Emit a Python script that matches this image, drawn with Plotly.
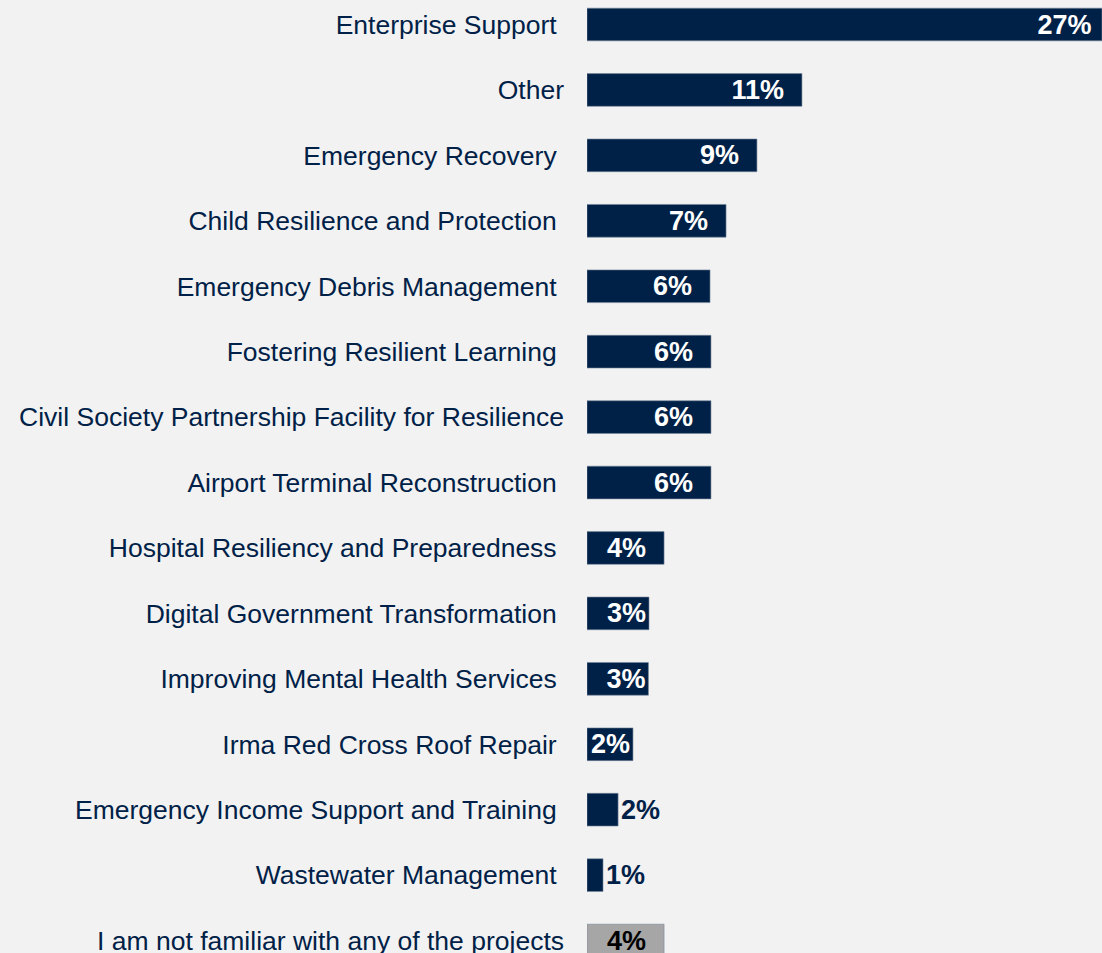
import plotly.graph_objects as go

NB = "\u00a0"
categories = [
    "Enterprise Support" + NB,
    "Other",
    "Emergency Recovery" + NB,
    "Child Resilience and Protection" + NB,
    "Emergency Debris Management" + NB,
    "Fostering Resilient Learning" + NB,
    "Civil Society Partnership Facility for Resilience",
    "Airport Terminal Reconstruction" + NB,
    "Hospital Resiliency and Preparedness" + NB,
    "Digital Government Transformation" + NB,
    "Improving Mental Health Services" + NB,
    "Irma Red Cross Roof Repair" + NB,
    "Emergency Income Support and Training" + NB,
    "Wastewater Management" + NB,
    "I am not familiar with any of the projects",
]
values = [27.0, 11.27, 8.91, 7.29, 6.45, 6.5, 6.5, 6.5, 4.04, 3.25, 3.22, 2.41, 1.63, 0.84, 4.04]
labels = ["27%" + NB, "11%" + NB * 2, "9%" + NB * 2, "7%" + NB * 2, "6%" + NB * 2, "6%" + NB * 2,
          "6%" + NB * 2, "6%" + NB * 2, "4%" + NB * 2, "3%", "3%", "2%", "2%", "1%", "4%" + NB * 2]

NAVY = "#002147"
GRAY = "#A6A6A6"
colors = [NAVY] * 14 + [GRAY]
text_pos = ["inside"] * 12 + ["outside", "outside", "inside"]
text_col = ["white"] * 12 + [NAVY, NAVY, "black"]

fig = go.Figure(
    go.Bar(
        x=values,
        y=categories,
        orientation="h",
        text=labels,
        textposition=text_pos,
        insidetextanchor="end",
        constraintext="none",
        textangle=0,
        cliponaxis=False,
        textfont=dict(family="Arial, Liberation Sans", size=27, color=text_col, weight="bold"),
        marker=dict(color=colors, line=dict(color="rgba(120,135,155,0.6)", width=1)),
        width=0.5,
        hoverinfo="skip",
    )
)

fig.update_layout(
    width=1102,
    height=953,
    margin=dict(l=587, r=0, t=0, b=0, pad=0, autoexpand=False),
    paper_bgcolor="#F2F2F2",
    plot_bgcolor="#F2F2F2",
    showlegend=False,
    hovermode=False,
    font=dict(family="Arial, Liberation Sans", color=NAVY),
    xaxis=dict(range=[0, 27], visible=False, fixedrange=True, automargin=False),
    yaxis=dict(
        type="category",
        range=[14.19, -0.3745],
        fixedrange=True,
        automargin=False,
        showgrid=False,
        zeroline=False,
        showline=False,
        ticks="",
        ticklabelstandoff=22,
        tickfont=dict(family="Arial, Liberation Sans", size=26.5, color=NAVY),
    ),
)

fig.write_html(
    "out.html",
    config={"displayModeBar": False, "staticPlot": True},
    post_script="document.body.style.margin='0';document.body.style.overflow='hidden';",
)
